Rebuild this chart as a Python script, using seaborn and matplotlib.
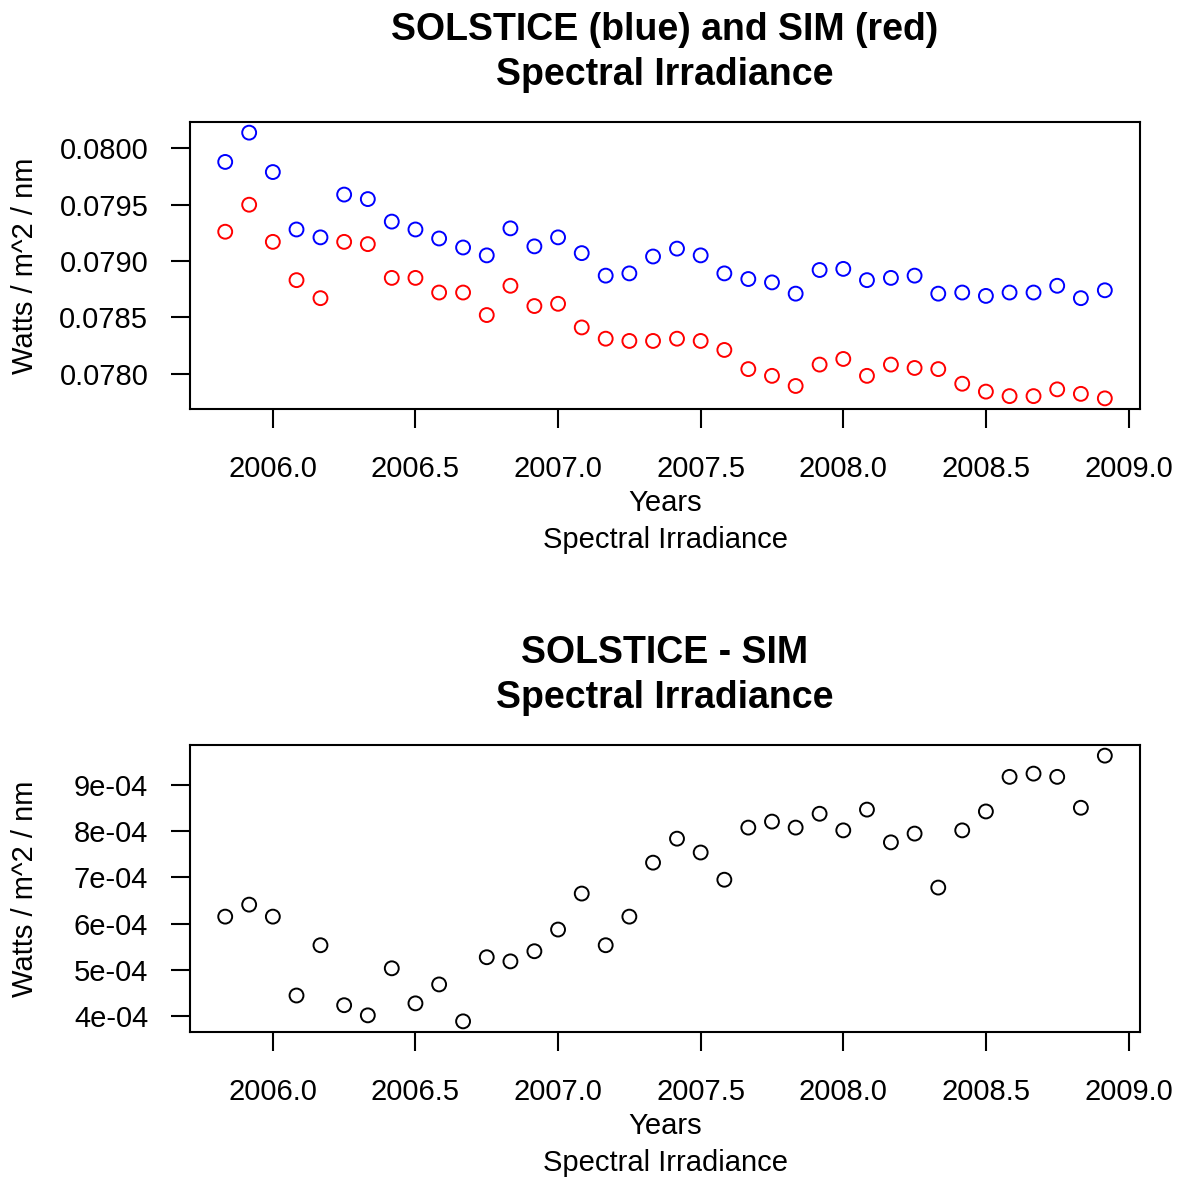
import seaborn as sns
import matplotlib.pyplot as plt
from matplotlib.ticker import FuncFormatter

# monthly samples, decimal years
years = [2005.833, 2005.917, 2006.000, 2006.083, 2006.167, 2006.250, 2006.333,
         2006.417, 2006.500, 2006.583, 2006.667, 2006.750, 2006.833, 2006.917,
         2007.000, 2007.083, 2007.167, 2007.250, 2007.333, 2007.417, 2007.500,
         2007.583, 2007.667, 2007.750, 2007.833, 2007.917, 2008.000, 2008.083,
         2008.167, 2008.250, 2008.333, 2008.417, 2008.500, 2008.583, 2008.667,
         2008.750, 2008.833, 2008.917]

solstice = [0.07988, 0.08014, 0.07979, 0.07928, 0.07921, 0.07959, 0.07955,
            0.07935, 0.07928, 0.07920, 0.07912, 0.07905, 0.07929, 0.07913,
            0.07921, 0.07907, 0.07887, 0.07889, 0.07904, 0.07911, 0.07905,
            0.07889, 0.07884, 0.07881, 0.07871, 0.07892, 0.07893, 0.07883,
            0.07885, 0.07887, 0.07871, 0.07872, 0.07869, 0.07872, 0.07872,
            0.07878, 0.07867, 0.07874]

sim = [0.07926, 0.07950, 0.07917, 0.07883, 0.07867, 0.07917, 0.07915,
       0.07885, 0.07885, 0.07872, 0.07872, 0.07852, 0.07878, 0.07860,
       0.07862, 0.07841, 0.07831, 0.07829, 0.07829, 0.07831, 0.07829,
       0.07821, 0.07804, 0.07798, 0.07789, 0.07808, 0.07813, 0.07798,
       0.07808, 0.07805, 0.07804, 0.07791, 0.07784, 0.07780, 0.07780,
       0.07786, 0.07782, 0.07778]

difference = [6.15e-4, 6.41e-4, 6.15e-4, 4.44e-4, 5.53e-4, 4.23e-4, 4.01e-4,
              5.03e-4, 4.27e-4, 4.68e-4, 3.88e-4, 5.27e-4, 5.18e-4, 5.40e-4,
              5.87e-4, 6.65e-4, 5.53e-4, 6.15e-4, 7.32e-4, 7.84e-4, 7.54e-4,
              6.95e-4, 8.08e-4, 8.21e-4, 8.08e-4, 8.38e-4, 8.02e-4, 8.47e-4,
              7.76e-4, 7.95e-4, 6.78e-4, 8.02e-4, 8.43e-4, 9.18e-4, 9.25e-4,
              9.18e-4, 8.51e-4, 9.64e-4]

x_ticks = [2006.0, 2006.5, 2007.0, 2007.5, 2008.0, 2008.5, 2009.0]
top_yticks = [0.0780, 0.0785, 0.0790, 0.0795, 0.0800]
bottom_yticks = [4e-4, 5e-4, 6e-4, 7e-4, 8e-4, 9e-4]

sns.set_theme(style="white")
plt.rcParams['font.family'] = ['Liberation Sans', 'DejaVu Sans']
plt.rcParams['text.color'] = 'black'
plt.rcParams['axes.labelcolor'] = 'black'

fig = plt.figure(figsize=(11.81, 11.79), dpi=100)
ax1 = fig.add_axes([0.1609, 0.6531, 0.8044, 0.2434])
ax2 = fig.add_axes([0.1609, 0.1247, 0.8044, 0.2434])

pt = dict(marker="o", s=100, facecolor="none", linewidth=1.4, legend=False)
sns.scatterplot(x=years, y=solstice, ax=ax1, edgecolor="#0000FF", **pt)
sns.scatterplot(x=years, y=sim, ax=ax1, edgecolor="#FF0000", **pt)
sns.scatterplot(x=years, y=difference, ax=ax2, edgecolor="black", **pt)


def style_axis(ax, title, yticks, fmt):
    ax.margins(x=0.04, y=0.04)
    for s in ax.spines.values():
        s.set_visible(True)
        s.set_color("black")
        s.set_linewidth(1.5)
    ax.set_xticks(x_ticks)
    ax.set_xticklabels([f"{t:.1f}" for t in x_ticks])
    ax.set_yticks(yticks)
    ax.yaxis.set_major_formatter(FuncFormatter(fmt))
    ax.tick_params(bottom=True, left=True, direction="out", length=14,
                   width=1.5, color="black", labelsize=21, labelcolor="black")
    ax.tick_params(axis="x", pad=19)
    ax.tick_params(axis="y", pad=16)
    ax.set_title(title, fontsize=27, fontweight="bold", pad=27, linespacing=1.3)
    ax.set_xlabel("")
    ax.set_ylabel("Watts / m^2 / nm", fontsize=21, va="center")
    ax.yaxis.set_label_coords(-0.1737, 0.5)
    ax.text(0.5, -0.3275, "Years", transform=ax.transAxes, ha="center",
            va="center", fontsize=21)
    ax.text(0.5, -0.456, "Spectral Irradiance", transform=ax.transAxes,
            ha="center", va="center", fontsize=21)


style_axis(ax1, "SOLSTICE (blue) and SIM (red)\nSpectral Irradiance",
           top_yticks, lambda v, p: f"{v:.4f}")
style_axis(ax2, "SOLSTICE - SIM\nSpectral Irradiance",
           bottom_yticks, lambda v, p: f"{v:.0e}")

fig.savefig("out.png", dpi=100)
plt.close()
